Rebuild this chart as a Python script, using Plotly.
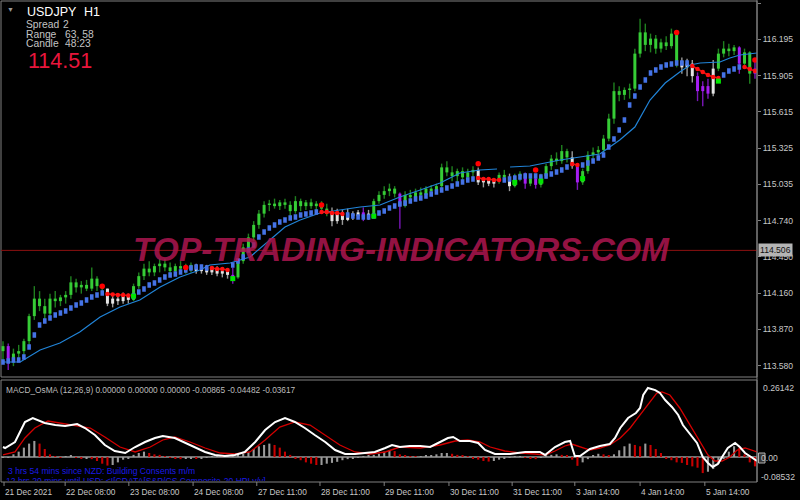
import plotly.graph_objects as go

W, H = 800, 500

# ---------------- data ----------------
time_labels = ["21 Dec 2021", "22 Dec 08:00", "23 Dec 08:00", "24 Dec 08:00",
               "27 Dec 11:00", "28 Dec 11:00", "29 Dec 11:00", "30 Dec 11:00",
               "31 Dec 11:00", "3 Jan 14:00", "4 Jan 14:00", "5 Jan 14:00"]
time_label_bars = [0.2, 11.9, 24.1, 36.4, 48.6, 60.7, 73.0, 85.4, 97.5, 109.5, 122.0, 134.4]

price_ticks = [116.485, 116.195, 115.905, 115.615, 115.325, 115.035,
               114.745, 114.455, 114.165, 113.875, 113.585]
price_tick_labels = ["116.485", "116.195", "115.905", "115.615", "115.325", "115.035",
                     "114.740", "114.450", "114.160", "113.870", "113.580"]
last_price = 114.506
macd_axis_labels = ["0.26142", "0.00", "-0.08532"]

bar_open = [
    113.70, 113.74, 113.62, 113.68, 113.70, 113.78, 113.98, 114.12, 114.06, 114.00,
    114.12, 114.10, 114.13, 114.15, 114.25, 114.21, 114.23, 114.20, 114.28, 114.22,
    114.20, 114.08, 114.12, 114.10, 114.14, 114.11, 114.22, 114.30, 114.36, 114.33,
    114.38, 114.40, 114.37, 114.34, 114.38, 114.36, 114.35, 114.39, 114.34, 114.37,
    114.33, 114.36, 114.32, 114.34, 114.31, 114.29, 114.42, 114.53, 114.61, 114.71,
    114.80, 114.87, 114.88, 114.86, 114.89, 114.87, 114.82, 114.90, 114.86, 114.89,
    114.86, 114.88, 114.84, 114.80, 114.74, 114.81, 114.75, 114.80, 114.78, 114.81,
    114.77, 114.80, 114.90, 114.95, 114.98, 115.00, 114.96, 114.86, 114.95, 114.93,
    114.97, 114.95, 115.00, 114.98, 115.02, 115.17, 115.13, 115.10, 115.14, 115.09,
    115.13, 115.15, 115.05, 115.07, 115.04, 115.06, 115.11, 115.09, 115.02, 115.10,
    115.12, 115.04, 115.08, 115.03, 115.10, 115.18, 115.24, 115.22, 115.30, 115.25,
    115.18, 115.05, 115.14, 115.27, 115.29, 115.31, 115.40, 115.56, 115.78, 115.75,
    115.79, 115.80, 116.08, 116.25, 116.15, 116.20, 116.12, 116.17, 116.14, 116.24,
    116.02, 115.97, 116.00, 115.90, 115.78, 115.82, 115.76, 115.96, 116.08, 116.12,
    116.10, 116.13, 116.00, 116.09, 115.92]
bar_high = [
    113.78, 113.76, 113.72, 113.75, 113.80, 114.00, 114.22, 114.18, 114.12, 114.16,
    114.18, 114.15, 114.18, 114.30, 114.28, 114.26, 114.27, 114.37, 114.30, 114.22,
    114.20, 114.14, 114.15, 114.17, 114.16, 114.24, 114.33, 114.40, 114.42, 114.40,
    114.44, 114.44, 114.41, 114.40, 114.42, 114.40, 114.41, 114.40, 114.39, 114.39,
    114.38, 114.38, 114.37, 114.36, 114.37, 114.44, 114.56, 114.64, 114.74, 114.83,
    114.90, 114.91, 114.92, 114.91, 114.92, 114.90, 114.94, 114.92, 114.91, 114.92,
    114.90, 114.90, 114.88, 114.85, 114.84, 114.83, 114.84, 114.82, 114.83, 114.85,
    114.83, 114.92, 114.98, 115.02, 115.04, 115.02, 114.97, 114.98, 114.99, 115.00,
    115.01, 115.02, 115.03, 115.04, 115.20, 115.22, 115.18, 115.16, 115.17, 115.16,
    115.18, 115.17, 115.09, 115.09, 115.08, 115.13, 115.15, 115.12, 115.12, 115.14,
    115.13, 115.10, 115.10, 115.12, 115.20, 115.27, 115.29, 115.35, 115.32, 115.30,
    115.19, 115.16, 115.30, 115.33, 115.34, 115.43, 115.60, 115.85, 115.82, 115.81,
    115.84, 116.12, 116.36, 116.32, 116.24, 116.23, 116.20, 116.22, 116.28, 116.25,
    116.05, 116.04, 116.03, 115.93, 115.86, 115.88, 116.03, 116.12, 116.18, 116.16,
    116.15, 116.14, 116.12, 116.10, 116.02]
bar_low = [
    113.62, 113.55, 113.58, 113.63, 113.66, 113.75, 113.95, 114.02, 113.94, 113.98,
    114.05, 114.06, 114.08, 114.12, 114.17, 114.16, 114.18, 114.18, 114.18, 114.17,
    114.06, 114.05, 114.07, 114.08, 114.08, 114.10, 114.20, 114.27, 114.30, 114.30,
    114.33, 114.34, 114.31, 114.31, 114.33, 114.32, 114.33, 114.32, 114.32, 114.31,
    114.31, 114.30, 114.29, 114.28, 114.24, 114.28, 114.40, 114.50, 114.58, 114.68,
    114.77, 114.82, 114.84, 114.83, 114.84, 114.78, 114.80, 114.82, 114.83, 114.84,
    114.82, 114.81, 114.78, 114.70, 114.72, 114.71, 114.74, 114.75, 114.76, 114.74,
    114.75, 114.79, 114.88, 114.92, 114.94, 114.93, 114.68, 114.85, 114.91, 114.91,
    114.93, 114.93, 114.95, 114.96, 115.00, 115.10, 115.06, 115.05, 115.07, 115.06,
    115.08, 115.03, 115.01, 115.02, 115.01, 115.04, 115.07, 114.98, 115.01, 115.06,
    115.00, 115.02, 115.00, 115.01, 115.08, 115.15, 115.19, 115.20, 115.21, 115.16,
    114.99, 115.03, 115.12, 115.24, 115.25, 115.28, 115.38, 115.52, 115.70, 115.71,
    115.72, 115.78, 116.05, 116.10, 116.09, 116.08, 116.09, 116.11, 116.12, 115.97,
    115.92, 115.90, 115.85, 115.70, 115.66, 115.72, 115.74, 115.94, 116.05, 116.06,
    116.07, 115.92, 115.98, 115.84, 115.88]
bar_close = [
    113.74, 113.62, 113.68, 113.70, 113.78, 113.98, 114.12, 114.06, 114.00, 114.12,
    114.10, 114.13, 114.15, 114.25, 114.21, 114.23, 114.20, 114.28, 114.22, 114.20,
    114.08, 114.12, 114.10, 114.14, 114.11, 114.22, 114.30, 114.36, 114.33, 114.38,
    114.40, 114.37, 114.34, 114.38, 114.36, 114.35, 114.39, 114.34, 114.37, 114.33,
    114.36, 114.32, 114.34, 114.31, 114.29, 114.42, 114.53, 114.61, 114.71, 114.80,
    114.87, 114.88, 114.86, 114.89, 114.87, 114.82, 114.90, 114.86, 114.89, 114.86,
    114.88, 114.84, 114.80, 114.74, 114.81, 114.75, 114.80, 114.78, 114.81, 114.77,
    114.80, 114.90, 114.95, 114.98, 115.00, 114.96, 114.86, 114.95, 114.93, 114.97,
    114.95, 115.00, 114.98, 115.02, 115.17, 115.13, 115.10, 115.14, 115.09, 115.13,
    115.15, 115.05, 115.07, 115.04, 115.06, 115.11, 115.09, 115.02, 115.10, 115.12,
    115.04, 115.08, 115.03, 115.10, 115.18, 115.24, 115.22, 115.30, 115.25, 115.18,
    115.05, 115.14, 115.27, 115.29, 115.31, 115.40, 115.56, 115.78, 115.75, 115.79,
    115.80, 116.08, 116.25, 116.15, 116.20, 116.12, 116.17, 116.14, 116.24, 116.02,
    115.97, 116.00, 115.90, 115.78, 115.82, 115.76, 115.96, 116.08, 116.12, 116.10,
    116.13, 116.00, 116.09, 115.92, 115.96]

# colour state of each bar: g = up (green), w = neutral (white), p = down (purple)
state_runs = [("g", 1), ("p", 1), ("g", 18), ("w", 5), ("g", 12), ("w", 7), ("p", 1),
              ("g", 18), ("w", 6), ("p", 1), ("w", 1), ("g", 5), ("p", 1), ("g", 14),
              ("w", 4), ("g", 2), ("w", 1), ("g", 2), ("p", 1), ("g", 1), ("p", 1),
              ("g", 6), ("w", 1), ("p", 1), ("g", 19), ("w", 3), ("p", 3), ("w", 1),
              ("g", 4), ("p", 1), ("g", 2), ("p", 1)]

# fast trend band (thick blocks), red where the trend is down
trend_band = [
    113.613, 113.621, 113.629, 113.629, 113.653, 113.733, 113.829, 113.909, 113.941, 113.965,
    113.989, 114.005, 114.021, 114.045, 114.069, 114.085, 114.109, 114.133, 114.149, 114.165,
    114.157, 114.153, 114.149, 114.149, 114.145, 114.141, 114.173, 114.197, 114.229, 114.245,
    114.269, 114.293, 114.309, 114.317, 114.333, 114.349, 114.365, 114.373, 114.373, 114.365,
    114.365, 114.357, 114.357, 114.349, 114.389, 114.421, 114.453, 114.509, 114.549, 114.613,
    114.653, 114.685, 114.709, 114.733, 114.749, 114.765, 114.773, 114.789, 114.797, 114.805,
    114.813, 114.813, 114.813, 114.805, 114.805, 114.797, 114.789, 114.781, 114.773, 114.773,
    114.773, 114.781, 114.805, 114.821, 114.845, 114.861, 114.877, 114.885, 114.901, 114.917,
    114.925, 114.941, 114.957, 114.973, 114.989, 115.005, 115.021, 115.037, 115.053, 115.069,
    115.077, 115.085, 115.077, 115.077, 115.069, 115.069, 115.069, 115.077, 115.085, 115.093,
    115.101, 115.101, 115.101, 115.093, 115.101, 115.117, 115.133, 115.149, 115.173, 115.197,
    115.189, 115.189, 115.205, 115.221, 115.245, 115.269, 115.333, 115.397, 115.469, 115.549,
    115.669, 115.741, 115.813, 115.869, 115.925, 115.949, 115.973, 115.989, 115.997, 116.005,
    116.005, 116.005, 115.981, 115.957, 115.933, 115.909, 115.893, 115.885, 115.909, 115.941,
    115.957, 115.973, 115.973, 115.957, 115.941]
band_down_ranges = [(20, 24), (40, 43), (61, 65), (91, 95), (109, 110), (132, 137), (142, 144)]

# slow moving average (thin line), read at these bar positions
slow_ma_bars = [0, 3.3, 7.1, 10.9, 14.7, 18.6, 22.4, 26.2, 30.1, 33.9, 37.7, 39.6, 43.5, 47.3,
                51.1, 54.0, 56.9, 60.7, 64.5, 68.4, 72.2, 76.0, 79.9, 83.7, 87.5, 91.3, 94.6,
                None, 97.1, 100.9, 103.8, 106.7, 110.5, 114.3, 118.1, 121.0, 123.9, 126.8,
                129.6, 131.6, 133.5, 137.3, 139.2, 141.1, 144.4]
slow_ma = [113.613, 113.613, 113.709, 113.765, 113.853, 113.973, 114.053, 114.109, 114.213,
           114.293, 114.349, 114.389, 114.405, 114.453, 114.589, 114.693, 114.749, 114.805,
           114.829, 114.853, 114.869, 114.933, 114.989, 115.045, 115.125, 115.149, 115.157,
           None, 115.173, 115.181, 115.205, 115.229, 115.253, 115.277, 115.389, 115.493,
           115.709, 115.845, 115.933, 115.989, 116.005, 116.013, 116.045, 116.069, 116.085]

sell_signal_bars = [19, 35, 61, 91, 102, 129, 144]
sell_signal_price = [114.22, 114.37, 114.87, 115.20, 115.15, 116.25, 116.03]
buy_signal_bars = [25, 44, 71, 98, 103, 111, 137]
buy_signal_price = [114.14, 114.28, 114.78, 115.05, 115.06, 115.08, 115.86]

# MACD_OsMA panel
macd_bars = [0, 0.4, 2.3, 4.2, 5.7, 8.0, 10.0, 11.9, 14.2, 15.7, 17.6, 19.5, 21.4, 23.4, 25.3,
             27.2, 29.1, 30.6, 32.9, 34.9, 36.8, 38.7, 40.6, 42.5, 44.4, 46.3, 48.3, 50.2,
             52.1, 54.0, 55.9, 57.8, 59.7, 61.7, 63.6, 65.5, 67.4, 69.3, 71.2, 73.2, 74.5,
             76.0, 77.9, 79.9, 81.8, 83.7, 85.2, 86.2, 87.5, 89.4, 91.0, 92.3, 94.2, 97.1,
             100.0, 102.8, 103.8, 105.7, 107.6, 108.6, 109.5, 110.5, 112.4, 114.3, 116.2,
             117.2, 118.2, 119.7, 121.2, 122.0, 122.6, 123.5, 124.9, 125.8, 126.8, 128.1,
             129.3, 130.2, 131.6, 132.9, 134.0, 135.0, 135.9, 136.9, 137.7, 138.8, 140.2,
             141.1, 142.1, 143.4, 144.4]
macd_main = [0.0373, 0.0336, 0.056, 0.1307, 0.1456, 0.127, 0.1195, 0.1158, 0.1232, 0.1083,
             0.0822, 0.0448, 0.0224, 0.0149, 0.0373, 0.056, 0.071, 0.0784, 0.071, 0.0523,
             0.0336, 0.0187, 0.0075, 0.0037, 0.0075, 0.0187, 0.056, 0.1008, 0.1307, 0.1456,
             0.1307, 0.1083, 0.0822, 0.056, 0.0261, 0.0112, 0.0112, 0.0149, 0.0187, 0.0336,
             0.0448, 0.0373, 0.0411, 0.0411, 0.0373, 0.056, 0.071, 0.0747, 0.0597, 0.0597,
             0.0523, 0.0261, 0.0112, 0.0112, 0.0187, 0.0187, 0.0075, 0.0373, 0.056, 0.0597,
             0.0037, 0.0037, 0.0299, 0.0411, 0.0485, 0.071, 0.1083, 0.1456, 0.1643, 0.183,
             0.2315, 0.2577, 0.250, 0.239, 0.2128, 0.1867, 0.157, 0.1195, 0.0822, 0.0523,
             0.0, -0.0224, -0.0373, -0.0261, 0.0, 0.0336, 0.0523, 0.0373, 0.0149, -0.0037,
             -0.0149]
signal_bars = [0, 2.3, 4.2, 6.1, 8.6, 10.9, 13.8, 16.7, 19.5, 22.4, 25.3, 28.2, 30.6, 32.9,
               35.8, 38.7, 41.6, 44.4, 47.3, 50.2, 53.0, 55.9, 58.8, 61.7, 64.5, 67.4, 70.3,
               73.2, 76.0, 79.9, 83.7, 86.6, 89.0, 91.3, 93.3, 96.1, 99.0, 101.9, 103.8,
               105.7, 107.6, 108.9, 110.5, 112.4, 114.3, 116.2, 118.2, 120.1, 122.0, 123.9,
               125.2, 126.2, 127.7, 129.6, 131.6, 133.5, 135.0, 136.3, 137.7, 139.2, 140.6,
               142.1, 143.4, 144.4]
macd_signal = [0.0075, 0.0187, 0.071, 0.1083, 0.1344, 0.127, 0.1195, 0.1083, 0.0747, 0.0373,
               0.0187, 0.0373, 0.0635, 0.0747, 0.056, 0.0336, 0.0149, 0.0112, 0.0187, 0.0635,
               0.112, 0.1307, 0.1195, 0.0822, 0.0448, 0.0187, 0.0112, 0.0187, 0.0373, 0.0336,
               0.0448, 0.0597, 0.0635, 0.056, 0.0373, 0.0224, 0.0149, 0.0112, 0.0075, 0.0224,
               0.0411, 0.0485, 0.0373, 0.0261, 0.0336, 0.0448, 0.071, 0.1083, 0.157, 0.2054,
               0.239, 0.2427, 0.2315, 0.183, 0.1195, 0.056, 0.0075, -0.0149, -0.0149, 0.0,
               0.0261, 0.0336, 0.0261, 0.0187]
osma_hist = [
    -0.003, -0.003, 0.010, 0.020, 0.035, 0.050, 0.060, 0.050, 0.030, 0.010,
    0.003, -0.003, 0.003, 0.005, -0.003, -0.005, -0.004, -0.008, -0.015, -0.025,
    -0.032, -0.030, -0.020, -0.010, -0.004, 0.008, 0.015, 0.020, 0.015, 0.010,
    0.008, 0.003, -0.003, -0.006, -0.008, -0.006, -0.005, -0.007, -0.004, -0.003,
    0.002, 0.003, 0.002, 0.003, 0.005, 0.008, 0.012, 0.018, 0.030, 0.040,
    0.045, 0.050, 0.045, 0.035, 0.020, 0.008, -0.005, -0.012, -0.020, -0.025,
    -0.030, -0.030, -0.025, -0.022, -0.018, -0.012, -0.008, -0.004, -0.003, 0.002,
    0.004, 0.008, 0.012, 0.020, 0.025, 0.022, 0.010, 0.005, 0.003, 0.002,
    0.002, 0.004, 0.006, 0.010, 0.015, 0.015, 0.012, 0.008, 0.005, 0.002,
    -0.004, -0.010, -0.015, -0.017, -0.015, -0.010, -0.006, -0.003, 0.002, 0.002,
    -0.002, -0.004, -0.008, -0.003, 0.004, 0.008, 0.010, 0.008, 0.004, -0.010,
    -0.033, -0.020, -0.008, 0.005, 0.012, 0.010, 0.006, 0.010, 0.025, 0.040,
    0.050, 0.045, 0.040, 0.050, 0.045, 0.030, 0.015, -0.005, -0.012, -0.020,
    -0.022, -0.030, -0.035, -0.040, -0.060, -0.055, -0.045, -0.025, -0.005, 0.020,
    0.040, 0.035, 0.010, -0.020, -0.035]

# ---------------- layout helpers (pixel calibration) ----------------
X_LEFT, X_RIGHT = 1, 757
MAIN_TOP, MAIN_BOT = 1, 377
SUB_TOP, SUB_BOT = 381, 481
BAR0_PX, BAR_PX = 3.0, 5.222
P_AT0, P_PER_PX = 116.509, 0.008
Z_PX, M_PER_PX = 457.0, 1 / 267.8


def xp(px):
    return px / W


def yp(py):
    return 1 - py / H


def bar_at(px):
    return (px - BAR0_PX) / BAR_PX


def price_at(py):
    return P_AT0 - P_PER_PX * py


def macd_at(py):
    return (Z_PX - py) * M_PER_PX


N = len(bar_close)
bar_state = [s for s, n in state_runs for _ in range(n)]

fig = go.Figure()

# ---- candles (wick = high/low, body = open/close) ----
palette = {"g": ("#36cc36", "#1f801f"), "w": ("#e4e4e4", "#9a9a9a"), "p": ("#a51ef2", "#7a16b8")}
for code, (body_c, wick_c) in palette.items():
    idx = [i for i in range(N) if bar_state[i] == code]
    wx, wy, bx, by = [], [], [], []
    for i in idx:
        wx += [i, i, None]
        wy += [bar_low[i], bar_high[i], None]
        lo, hi = min(bar_open[i], bar_close[i]), max(bar_open[i], bar_close[i])
        if hi - lo < 0.012:
            m = (hi + lo) / 2
            lo, hi = m - 0.006, m + 0.006
        bx += [i, i, None]
        by += [lo, hi, None]
    fig.add_trace(go.Scatter(x=wx, y=wy, mode="lines", line=dict(color=wick_c, width=1.4),
                             hoverinfo="skip", xaxis="x", yaxis="y"))
    fig.add_trace(go.Scatter(x=bx, y=by, mode="lines", line=dict(color=body_c, width=3),
                             hoverinfo="skip", xaxis="x", yaxis="y"))

# ---- slow MA thin line ----
fig.add_trace(go.Scatter(x=slow_ma_bars, y=slow_ma, mode="lines",
                         line=dict(color="#2184d8", width=1.2), connectgaps=False,
                         hoverinfo="skip", xaxis="x", yaxis="y"))

# ---- trend band blocks ----
down = set()
for a, b in band_down_ranges:
    down.update(range(a, b + 1))
half = 0.022
kx, ky = [], []
for i in range(N):
    if i in down:
        continue
    kx += [i, i, None]
    ky += [trend_band[i] - half, trend_band[i] + half, None]
fig.add_trace(go.Scatter(x=kx, y=ky, mode="lines", line=dict(color="#4573e6", width=3.6),
                         hoverinfo="skip", xaxis="x", yaxis="y"))
rx, ry = [], []
for a, b in band_down_ranges:
    for i in range(a, b + 1):
        rx.append(i)
        ry.append(trend_band[i])
    rx.append(None)
    ry.append(None)
fig.add_trace(go.Scatter(x=rx, y=ry, mode="lines+markers",
                         line=dict(color="#e01010", width=1.5),
                         marker=dict(color="#ff1010", size=4.5),
                         hoverinfo="skip", xaxis="x", yaxis="y"))

# ---- signal dots ----
fig.add_trace(go.Scatter(x=sell_signal_bars, y=sell_signal_price, mode="markers",
                         marker=dict(color="#ff0000", size=5.5), hoverinfo="skip",
                         xaxis="x", yaxis="y"))
fig.add_trace(go.Scatter(x=buy_signal_bars, y=buy_signal_price, mode="markers",
                         marker=dict(color="#00e600", size=5, symbol="square"),
                         hoverinfo="skip", xaxis="x", yaxis="y"))

# ---- MACD panel ----
hist_colors = ["#9a9a9a" if (i == 0 or osma_hist[i] >= osma_hist[i - 1]) else "#c80000"
               for i in range(N)]
fig.add_trace(go.Bar(x=list(range(N)), y=osma_hist, width=0.4,
                     marker=dict(color=hist_colors, line=dict(width=0)),
                     hoverinfo="skip", xaxis="x2", yaxis="y2"))
fig.add_trace(go.Scatter(x=signal_bars, y=macd_signal, mode="lines",
                         line=dict(color="#d40000", width=1.3), hoverinfo="skip",
                         xaxis="x2", yaxis="y2"))
fig.add_trace(go.Scatter(x=macd_bars, y=macd_main, mode="lines",
                         line=dict(color="#ffffff", width=2), hoverinfo="skip",
                         xaxis="x2", yaxis="y2"))
# clipped second news line (cut by the panel bottom)
fig.add_trace(go.Scatter(x=[bar_at(6)], y=[macd_at(481.5)], mode="text",
                         text=["12 hrs 20 mins until USD: &lt;![CDATA[S&amp;P/CS Composite-20 HPI y/y]"],
                         textposition="middle right", cliponaxis=True,
                         textfont=dict(family="Liberation Sans", size=8.6, color="#1a1ae6"),
                         hoverinfo="skip", xaxis="x2", yaxis="y2"))

# ---------------- shapes ----------------
grey = "#808080"
shapes = [
    dict(type="rect", xref="paper", yref="paper", x0=xp(X_LEFT), x1=xp(X_RIGHT),
         y0=yp(MAIN_BOT), y1=yp(MAIN_TOP), line=dict(color=grey, width=1), layer="below"),
    dict(type="rect", xref="paper", yref="paper", x0=xp(X_LEFT), x1=xp(X_RIGHT),
         y0=yp(482), y1=yp(SUB_TOP - 1), line=dict(color=grey, width=1), layer="below"),
    dict(type="line", xref="paper", yref="paper", x0=xp(X_RIGHT), x1=xp(X_RIGHT),
         y0=yp(482), y1=1, line=dict(color=grey, width=1)),
    dict(type="line", xref="paper", yref="y", x0=xp(X_LEFT), x1=xp(X_RIGHT),
         y0=last_price, y1=last_price, line=dict(color="#8c1010", width=1), layer="below"),
    dict(type="line", xref="paper", yref="y2", x0=xp(X_LEFT), x1=xp(X_RIGHT),
         y0=0, y1=0, line=dict(color="#9a9a9a", width=1.5), layer="below"),
    dict(type="rect", xref="paper", yref="paper", x0=xp(758.5), x1=xp(765),
         y0=yp(463), y1=yp(453), line=dict(color="#b0b0b0", width=1),
         fillcolor="rgba(150,150,150,0.35)"),
]
for b in time_label_bars:
    shapes.append(dict(type="line", xref="x", yref="paper", x0=b, x1=b,
                       y0=yp(486), y1=yp(482), line=dict(color=grey, width=1)))

# ---------------- annotations ----------------
FONT = "Liberation Sans"
ann = []


def txt(px, py, s, size, color, anchor="left", **kw):
    ann.append(dict(x=xp(px), y=yp(py), xref="paper", yref="paper", text=s,
                    showarrow=False, xanchor=anchor, yanchor="middle",
                    font=dict(family=FONT, size=size, color=color, **kw)))


txt(5, 9, "▼", 7, "#9a9a9a")
txt(25, 12, "USDJPY", 12.5, "#ffffff")
txt(82, 12, "H1", 12.5, "#ffffff")
txt(24, 24, "Spread", 10.3, "#c4c4c4")
txt(61, 24, "2", 10.3, "#c4c4c4")
txt(24, 34, "Range", 10.3, "#c4c4c4")
txt(63, 34, "63, 58", 10.3, "#c4c4c4")
txt(24, 43.5, "Candle", 10.3, "#c4c4c4")
txt(63, 43.5, "48:23", 10.3, "#c4c4c4")
txt(26, 61, "114.51", 21.5, "#e8163c")

txt(4, 390, "MACD_OsMA (12,26,9) 0.00000 0.00000 0.00000 -0.00865 -0.04482 -0.03617",
    8.3, "#bcbcbc")
txt(6, 471, "3 hrs 54 mins since NZD: Building Consents m/m", 8.6, "#1a1ae6")

txt(761, 388, macd_axis_labels[0], 8.6, "#c8c8c8")
txt(759, 458, macd_axis_labels[1], 8.6, "#c8c8c8")
txt(759, 477, macd_axis_labels[2], 8.6, "#c8c8c8")

ann.append(dict(x=xp(401), y=yp(249), xref="paper", yref="paper",
                text="TOP-TRADING-INDICATORS.COM", showarrow=False,
                xanchor="center", yanchor="middle",
                font=dict(family=FONT, size=33.5, color="rgba(175,22,80,0.86)",
                          weight="bold", style="italic")))

ann.append(dict(x=xp(758), y=last_price, xref="paper", yref="y", text="114.506",
                showarrow=False, xanchor="left", yanchor="middle", bgcolor="#b4b4b4",
                borderpad=1, font=dict(family=FONT, size=8.6, color="#101010")))

for lab, b in zip(time_labels, time_label_bars):
    ann.append(dict(x=b, y=yp(492), xref="x", yref="paper", text=lab, showarrow=False,
                    xanchor="left", yanchor="middle", xshift=-1,
                    font=dict(family=FONT, size=8.3, color="#c8c8c8")))

fig.update_layout(
    width=W, height=H, margin=dict(l=0, r=0, t=0, b=0),
    paper_bgcolor="#000000", plot_bgcolor="#000000",
    showlegend=False, hovermode=False, barmode="overlay",
    shapes=shapes, annotations=ann,
    xaxis=dict(domain=[xp(X_LEFT), xp(X_RIGHT)], range=[bar_at(X_LEFT), bar_at(X_RIGHT)],
               visible=False, anchor="y"),
    xaxis2=dict(domain=[xp(X_LEFT), xp(X_RIGHT)], range=[bar_at(X_LEFT), bar_at(X_RIGHT)],
                visible=False, anchor="y2", matches="x"),
    yaxis=dict(domain=[yp(MAIN_BOT), yp(MAIN_TOP)],
               range=[price_at(MAIN_BOT), price_at(MAIN_TOP)],
               side="right", anchor="x", tickmode="array", tickvals=price_ticks,
               ticktext=price_tick_labels, ticks="outside", ticklen=3, tickcolor=grey,
               tickfont=dict(family=FONT, size=8.6, color="#c8c8c8"),
               showgrid=False, zeroline=False, showline=False),
    yaxis2=dict(domain=[yp(SUB_BOT), yp(SUB_TOP)],
                range=[macd_at(SUB_BOT), macd_at(SUB_TOP)],
                visible=False, anchor="x2"),
)

fig.write_html("out.html", config={"displayModeBar": False},
               post_script="document.body.style.margin='0';document.body.style.padding='0';"
                           "document.body.style.background='#000';")
